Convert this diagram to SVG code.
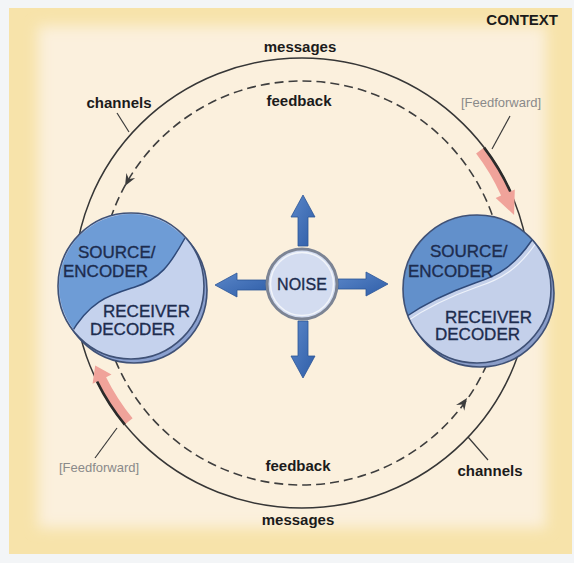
<svg xmlns="http://www.w3.org/2000/svg" width="574" height="563" viewBox="0 0 574 563">
  <defs>
    <style>
      .lbl{font-family:"Liberation Sans",Arial,sans-serif;font-size:15px;font-weight:bold;fill:#1b1b1b;text-anchor:middle}
      .ff{font-family:"Liberation Sans",Arial,sans-serif;font-size:13px;fill:#8a8a8a;text-anchor:middle}
      .nt{font-family:"Liberation Sans",Arial,sans-serif;font-size:17px;fill:#1d2c4e;stroke:#1d2c4e;stroke-width:0.35}
      .rim{stroke:#3f5176;stroke-width:1.6}
      .leader{stroke:#3a3a3a;stroke-width:1.2;fill:none}
      .noiseArrow{fill:url(#blueFill);stroke:#2c5597;stroke-width:0.8}
      .ffArrow{fill:#f0a39a}
      .ffEdge{fill:none;stroke:#2b2b2b;stroke-width:2.6}
      .dashHead{fill:#3c3c3c}
    </style>
    <linearGradient id="blueFill" x1="0" y1="0" x2="1" y2="1">
      <stop offset="0" stop-color="#5a86c8"/>
      <stop offset="1" stop-color="#2f5ea8"/>
    </linearGradient>
    <clipPath id="clipL"><circle cx="131" cy="286" r="72"/></clipPath>
    <clipPath id="clipR"><circle cx="477" cy="289" r="74"/></clipPath>
    <filter id="soft" x="-10%" y="-10%" width="120%" height="120%">
      <feGaussianBlur stdDeviation="7"/>
    </filter>
  </defs>

  <!-- page and panel -->
  <rect x="0" y="0" width="574" height="563" fill="#f3f5f7"/>
  <rect x="9" y="8" width="563" height="546" fill="#f7e3aa"/>
  <rect x="38" y="26" width="508" height="502" fill="#fbf0dd" filter="url(#soft)"/>

  <!-- connectors -->
  <g id="connectors">
    <!-- messages channel -->
    <ellipse cx="302" cy="283" rx="228" ry="225" fill="none" stroke="#363636" stroke-width="1.5"/>
    <!-- feedback channel -->
    <circle cx="302" cy="283" r="202" fill="none" stroke="#3e3e3e" stroke-width="1.6" stroke-dasharray="9 5"/>
    <path class="dashHead" d="M0,0 L-12,-5 L-8,0 L-12,5 Z" transform="translate(125,186) rotate(118.7)"/>
    <path class="dashHead" d="M0,0 L-12,-5 L-8,0 L-12,5 Z" transform="translate(467,398) rotate(-55.3)"/>

    <!-- feedforward, upper right -->
    <path class="ffArrow" d="M484.1,147.6 A228,225 0 0 1 510.3,191.5 L514.8,189.5 L514.1,215.0 L495.7,198.0 L501.1,195.6 A218,215 0 0 0 476.1,153.6 Z"/>
    <path class="ffEdge" d="M484.1,147.6 A228,225 0 0 1 510.3,191.5"/>
    <!-- feedforward, lower left -->
    <path class="ffArrow" d="M124.8,424.6 A228,225 0 0 1 97.1,381.6 L92.6,383.8 L95.2,365.4 L111.5,374.6 L106.1,377.3 A218,215 0 0 0 132.6,418.3 Z"/>
    <path class="ffEdge" d="M124.8,424.6 A228,225 0 0 1 97.1,381.6"/>

    <!-- label leaders -->
    <line class="leader" x1="117" y1="113" x2="129" y2="132"/>
    <line class="leader" x1="510" y1="116" x2="492" y2="149"/>
    <line class="leader" x1="95" y1="458" x2="117" y2="428"/>
    <line class="leader" x1="488" y1="460" x2="468" y2="437"/>

    <!-- noise spreading out -->
    <polygon class="noiseArrow" points="298,246 298,217 291,217 303,195 315,217 308,217 308,246"/>
    <polygon class="noiseArrow" points="266,280 237,280 237,273 215,285 237,297 237,290 266,290"/>
    <polygon class="noiseArrow" points="338,279 366,279 366,272 388,284 366,296 366,289 338,289"/>
    <polygon class="noiseArrow" points="298,321 298,356 291,356 303,378 315,356 308,356 308,321"/>
  </g>

  <!-- left communicator -->
  <g id="nodeLeft">
    <circle class="rim" cx="134" cy="290" r="73" fill="#8aa0cf"/>
    <circle cx="131" cy="286" r="73" fill="#c5d2ed"/>
    <path clip-path="url(#clipL)" fill="#6e9cd6" d="M70,335 C90,300 110,295 135,287 C160,279 170,265 185,238 L230,190 L230,150 L30,150 L30,360 Z"/>
    <path fill="none" stroke="#2f4a7a" stroke-width="1.5" clip-path="url(#clipL)" d="M70,335 C90,300 110,295 135,287 C160,279 170,265 185,238"/>
    <circle class="rim" cx="131" cy="286" r="73" fill="none"/>
    <text class="nt" x="78" y="258">SOURCE/</text>
    <text class="nt" x="63" y="277">ENCODER</text>
    <text class="nt" x="103" y="317">RECEIVER</text>
    <text class="nt" x="90" y="335">DECODER</text>
  </g>

  <!-- noise -->
  <g id="nodeNoise">
    <circle cx="302" cy="284" r="35" fill="#d3dcf0" stroke="#7c8494" stroke-width="3"/>
    <circle cx="302" cy="284" r="31.5" fill="none" stroke="#f2f5fa" stroke-width="1.5"/>
    <text class="nt" x="302" y="290" text-anchor="middle" style="font-size:16px">NOISE</text>
  </g>

  <!-- right communicator -->
  <g id="nodeRight">
    <circle class="rim" cx="480" cy="293" r="74" fill="#8a9dc8"/>
    <circle cx="477" cy="289" r="74" fill="#c4d0ea"/>
    <path clip-path="url(#clipR)" fill="#6290cb" d="M404,318 C430,300 455,290 475,283 C500,275 515,265 532,240 L580,190 L580,150 L380,150 L380,330 Z"/>
    <path fill="none" stroke="#eef2fa" stroke-width="1.2" clip-path="url(#clipR)" d="M406,322 C432,304 457,294 477,287 C502,279 518,269 536,243"/>
    <path fill="none" stroke="#2f4a7a" stroke-width="1.5" clip-path="url(#clipR)" d="M404,318 C430,300 455,290 475,283 C500,275 515,265 532,240"/>
    <circle class="rim" cx="477" cy="289" r="74" fill="none"/>
    <text class="nt" x="430" y="257">SOURCE/</text>
    <text class="nt" x="408" y="277">ENCODER</text>
    <text class="nt" x="445" y="323">RECEIVER</text>
    <text class="nt" x="435" y="340">DECODER</text>
  </g>

  <!-- labels -->
  <g id="labels">
    <text class="lbl" x="558" y="25" style="text-anchor:end">CONTEXT</text>
    <text class="lbl" x="300" y="52">messages</text>
    <text class="lbl" x="299" y="106">feedback</text>
    <text class="lbl" x="119" y="108">channels</text>
    <text class="ff" x="501" y="107">[Feedforward]</text>
    <text class="ff" x="99" y="472">[Feedforward]</text>
    <text class="lbl" x="298" y="471">feedback</text>
    <text class="lbl" x="490" y="476">channels</text>
    <text class="lbl" x="298" y="525">messages</text>
  </g>
</svg>
